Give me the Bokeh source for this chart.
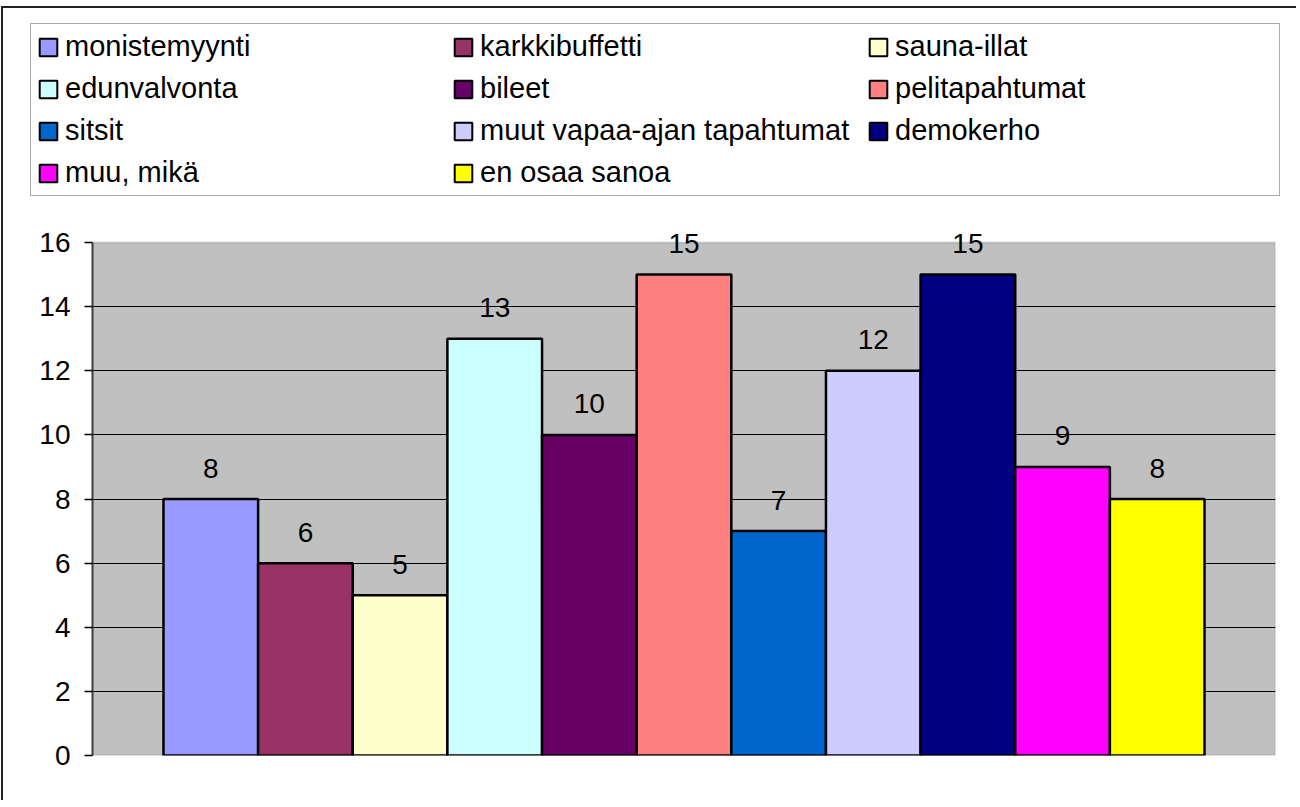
from bokeh.plotting import figure
from bokeh.layouts import column
from bokeh.models import (Range1d, FixedTicker, Legend, LegendItem,
                          ColumnDataSource, BoxAnnotation)
from bokeh.core.properties import value
from bokeh.embed import file_html
from bokeh.resources import INLINE

categories = ["monistemyynti", "karkkibuffetti", "sauna-illat", "edunvalvonta",
              "bileet", "pelitapahtumat", "sitsit", "muut vapaa-ajan tapahtumat",
              "demokerho", "muu, mikä", "en osaa sanoa"]
counts = [8, 6, 5, 13, 10, 15, 7, 12, 15, 9, 8]
colors = ["#9999FF", "#993366", "#FFFFCC", "#CCFFFF", "#660066", "#FF8080",
          "#0066CC", "#CCCCFF", "#000080", "#FF00FF", "#FFFF00"]
y_ticks = [0, 2, 4, 6, 8, 10, 12, 14, 16]
y_max = 16

FONT = "Liberation Sans"
FS = "28px"
LFS = "29px"

src = ColumnDataSource(dict(
    x=list(range(len(categories))),
    top=counts,
    color=colors,
    cat=categories,
    label=[str(v) for v in counts],
))

# ---------- legend panel ----------
pl = figure(width=1293, height=218, x_range=Range1d(0, 1),
            y_range=Range1d(0, 1), output_backend="svg",
            toolbar_location=None, x_axis_location=None,
            y_axis_location=None, min_border=0)
pl.frame_align = False
pl.grid.visible = False
pl.outline_line_color = None
pl.background_fill_color = "white"
pl.border_fill_color = "white"
lr = pl.vbar(x="x", top="top", bottom=0, width=1, source=src,
             fill_color="color", line_color="black", line_width=2)
lr.visible = False
items = [LegendItem(label=value(c), renderers=[lr], index=i)
         for i, c in enumerate(categories)]
legend = Legend(items=items, ncols=3, orientation="horizontal",
                location=(27, 30),
                label_text_font=FONT, label_text_font_size=LFS,
                label_text_color="black",
                glyph_width=22, glyph_height=22, label_standoff=6,
                label_width=378, spacing=9, padding=6, margin=0,
                border_line_color="#555555", border_line_width=1.5,
                background_fill_color="white", background_fill_alpha=1,
                inactive_fill_alpha=0)
pl.add_layout(legend, "center")

# ---------- chart ----------
p = figure(width=1293, height=574,
           x_range=Range1d(-1.25, 11.25), y_range=Range1d(0, y_max + 0.5),
           output_backend="svg", toolbar_location=None,
           min_border_left=89, min_border_right=21,
           min_border_top=0, min_border_bottom=45)
p.frame_align = False
p.background_fill_color = "white"
p.border_fill_color = "white"
p.outline_line_color = None

plot_area = BoxAnnotation(bottom=0, top=y_max, fill_color="#C0C0C0",
                          fill_alpha=1, line_color="#808080", line_width=2,
                          level="image")
p.add_layout(plot_area)

p.xaxis.visible = False
p.xgrid.visible = False
p.ygrid.ticker = FixedTicker(ticks=y_ticks[1:-1])
p.ygrid.grid_line_color = "black"
p.ygrid.grid_line_width = 1

yax = p.yaxis[0]
yax.ticker = FixedTicker(ticks=y_ticks)
yax.bounds = (0, y_max)
yax.major_tick_in = 0
yax.major_tick_out = 8
yax.minor_tick_in = 0
yax.minor_tick_out = 0
yax.major_tick_line_color = "black"
yax.major_tick_line_width = 1.5
yax.axis_line_color = "#404040"
yax.axis_line_width = 2
yax.major_label_text_font = FONT
yax.major_label_text_font_size = FS
yax.major_label_text_color = "black"
yax.major_label_standoff = 14

r = p.vbar(x="x", top="top", bottom=0, width=1, source=src,
           fill_color="color", line_color="black", line_width=2.5)

p.text(x="x", y="top", text="label", source=src,
       text_align="center", text_baseline="alphabetic", y_offset=-31,
       text_font=value(FONT), text_font_size=FS, text_color="black")

layout = column(pl, p, spacing=0, margin=(6, 0, 0, 1),
                styles={"border-top": "2px solid #222222",
                        "border-left": "2px solid #222222"})

open("out.html", "w").write(file_html(layout, INLINE))
